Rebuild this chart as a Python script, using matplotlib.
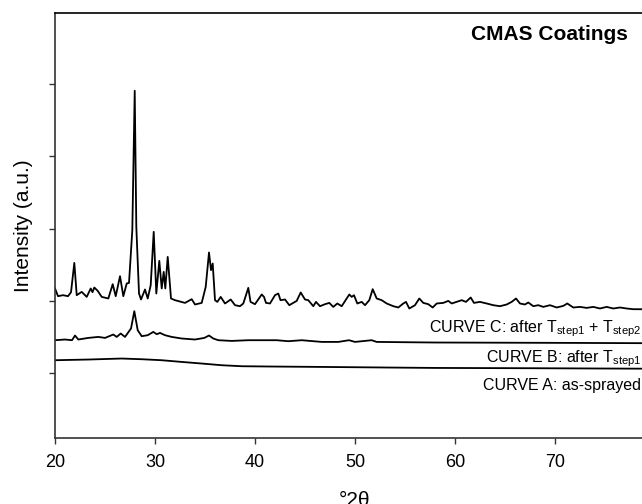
import matplotlib
matplotlib.use('Agg')
import matplotlib.pyplot as plt

plt.rcParams['font.family'] = ['Liberation Sans', 'DejaVu Sans']
plt.rcParams['mathtext.fontset'] = 'custom'
plt.rcParams['mathtext.rm'] = 'Liberation Sans'
plt.rcParams['mathtext.it'] = 'Liberation Sans:italic'
plt.rcParams['mathtext.bf'] = 'Liberation Sans:bold'

# curve C: after Tstep1 + Tstep2 (2theta, intensity a.u.)
c_x = [20.0, 20.3, 20.8, 21.3, 21.6, 21.93, 22.17, 22.67, 23.17, 23.57, 23.75, 23.93,
       24.27, 24.67, 25.33, 25.77, 26.07, 26.5, 26.83, 27.17, 27.4, 27.73, 27.97, 28.13,
       28.4, 28.6, 29.0, 29.27, 29.57, 29.87, 30.13, 30.43, 30.67, 30.87, 31.03, 31.27,
       31.6, 32.0, 33.0, 33.67, 34.0, 34.67, 35.07, 35.4, 35.6, 35.77, 36.0, 36.23,
       36.57, 37.0, 37.57, 38.0, 38.5, 38.83, 39.33, 39.55, 40.0, 40.67, 40.9, 41.1,
       41.5, 42.0, 42.33, 42.55, 43.0, 43.43, 44.17, 44.57, 45.0, 45.33, 45.83, 46.1,
       46.5, 47.0, 47.43, 47.83, 48.23, 48.67, 49.43, 49.67, 49.9, 50.23, 50.67, 51.0,
       51.43, 51.77, 52.17, 52.67, 53.17, 53.83, 54.33, 54.83, 55.1, 55.43, 56.0, 56.43,
       56.83, 57.33, 57.77, 58.17, 58.83, 59.33, 59.67, 60.17, 60.67, 61.1, 61.57, 61.9,
       62.5, 63.17, 63.83, 64.5, 65.17, 65.67, 66.1, 66.5, 67.0, 67.33, 67.83, 68.33,
       68.83, 69.5, 70.17, 70.83, 71.23, 71.83, 72.5, 73.17, 73.83, 74.5, 75.17, 75.83,
       76.5, 77.17, 77.83, 78.7, 80.0]
c_y = [1497, 1420, 1430, 1420, 1460, 1753, 1430, 1463, 1413, 1497, 1460, 1507,
       1473, 1413, 1397, 1540, 1420, 1620, 1420, 1547, 1553, 2080, 3473, 2113,
       1447, 1387, 1487, 1397, 1530, 2063, 1447, 1773, 1497, 1663, 1497, 1813,
       1397, 1380, 1353, 1390, 1337, 1353, 1513, 1857, 1680, 1747, 1380, 1363,
       1413, 1347, 1387, 1330, 1320, 1347, 1503, 1363, 1340, 1437, 1413, 1353,
       1347, 1430, 1447, 1380, 1387, 1330, 1373, 1457, 1387, 1380, 1320, 1363,
       1320, 1340, 1353, 1313, 1347, 1320, 1437, 1413, 1430, 1347, 1363, 1330,
       1380, 1490, 1397, 1380, 1347, 1320, 1307, 1347, 1363, 1297, 1330, 1397,
       1353, 1340, 1307, 1347, 1353, 1373, 1347, 1363, 1380, 1363, 1407, 1353,
       1363, 1347, 1330, 1320, 1337, 1363, 1397, 1347, 1337, 1357, 1320, 1330,
       1313, 1330, 1307, 1323, 1347, 1307, 1313, 1303, 1313, 1297, 1313, 1297,
       1307, 1297, 1290, 1290, 1285]

# curve B: after Tstep1
b_x = [20.0, 21.0, 21.7, 22.0, 22.33, 23.33, 24.33, 25.0, 25.83, 26.17, 26.57, 27.0,
       27.6, 27.93, 28.27, 28.67, 29.27, 29.83, 30.17, 30.5, 31.0, 31.67, 32.67, 34.0,
       34.93, 35.4, 35.83, 36.33, 37.67, 39.33, 40.67, 42.17, 43.33, 44.67, 46.67, 48.33,
       49.4, 50.0, 51.67, 52.17, 55.0, 58.0, 65.0, 72.0, 80.0]
b_y = [980, 987, 980, 1027, 987, 1003, 1013, 1003, 1037, 1013, 1047, 1013,
       1097, 1270, 1080, 1020, 1030, 1063, 1040, 1053, 1030, 1013, 997, 987,
       1003, 1027, 997, 980, 973, 980, 980, 980, 970, 980, 963, 963,
       980, 963, 980, 963, 960, 957, 955, 953, 950]

# curve A: as-sprayed
a_x = [20.0, 23.33, 26.67, 28.67, 30.67, 32.67, 34.67, 36.67, 38.67, 41.67, 46.67,
       53.33, 58.0, 68.0, 80.0]
a_y = [780, 787, 797, 790, 780, 763, 747, 730, 720, 717, 713, 707, 703, 700, 695]

curve_labels = ['CURVE C: after T$_{\\mathregular{step1}}$ + T$_{\\mathregular{step2}}$',
                'CURVE B: after T$_{\\mathregular{step1}}$',
                'CURVE A: as-sprayed']

fig = plt.figure(figsize=(6.42, 5.04), dpi=100)
ax = fig.add_axes([0.0857, 0.1304, 0.9345, 0.8444])

for xs, ys in [(c_x, c_y), (b_x, b_y), (a_x, a_y)]:
    ax.plot(xs, ys, color='black', lw=1.3, solid_joinstyle='round')

ax.set_xlim(20, 80)
ax.set_ylim(0, 4253)
ax.set_xticks(range(20, 71, 10))
ax.set_yticks([653, 1374, 2095, 2817, 3537])
ax.set_yticklabels([])
ax.tick_params(axis='both', direction='out', length=4.5, width=1, colors='#333333')
ax.tick_params(axis='x', labelsize=13, pad=7, labelcolor='black')
for s in ax.spines.values():
    s.set_linewidth(1.2)
    s.set_color('#333333')
ax.spines['top'].set_color('black')

ax.set_xlabel('°2θ', fontsize=15, labelpad=14)
ax.set_ylabel('Intensity (a.u.)', fontsize=15, labelpad=8)

ax.text(77.3, 4040, 'CMAS Coatings', fontsize=15, fontweight='bold', ha='right', va='center')
for lab, yb in zip(curve_labels, [1060, 760, 480]):
    ax.text(78.6, yb, lab, fontsize=11.5, ha='right', va='baseline')

fig.savefig('out.png', dpi=100)
